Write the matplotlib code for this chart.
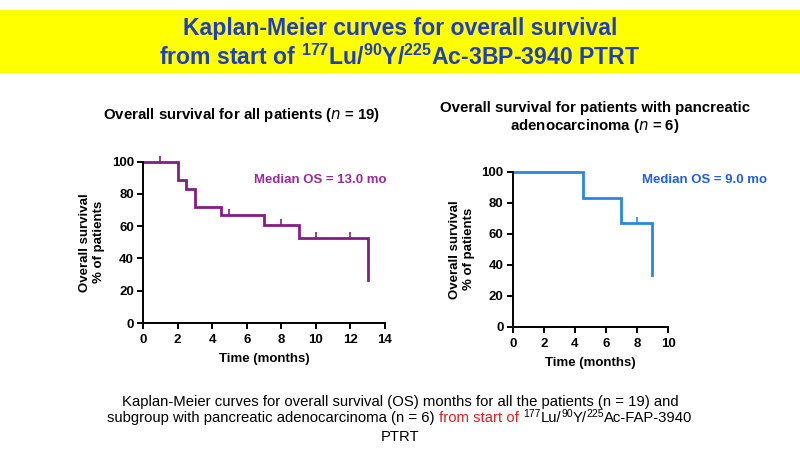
import matplotlib
matplotlib.use("Agg")
import matplotlib.pyplot as plt
from matplotlib.patches import Rectangle

plt.rcParams['font.family'] = ['Liberation Sans', 'DejaVu Sans']
plt.rcParams['mathtext.fontset'] = 'custom'
plt.rcParams['mathtext.rm'] = 'Liberation Sans'
plt.rcParams['mathtext.bf'] = 'Liberation Sans:bold'

# dados
all_times = [0, 2, 2.5, 3, 4.5, 7, 9, 13]
all_surv = [100, 88.9, 83.3, 72.2, 66.7, 60.6, 53.0, 26.5]
all_cens_t = [1, 5, 8, 10, 12]
all_cens_s = [100, 66.7, 60.6, 53.0, 53.0]

panc_times = [0, 4.5, 7, 9]
panc_surv = [100, 83.3, 66.7, 33.3]
panc_cens_t = [8]
panc_cens_s = [66.7]

left_xticks = [0, 2, 4, 6, 8, 10, 12, 14]
right_xticks = [0, 2, 4, 6, 8, 10]
yticks = [0, 20, 40, 60, 80, 100]

purple = '#861c86'
purple_txt = '#9a2a9a'
blue = '#2a86e6'
blue_txt = '#1f5fe0'

fig = plt.figure(figsize=(8, 4.5), dpi=100)
W, H = 800, 450

def fx(px):
    return px / W

def fy(py):
    return 1 - py / H

# faixa amarela do titulo
fig.patches.append(Rectangle((0, fy(73)), 1, fy(10) - fy(73), transform=fig.transFigure,
                             facecolor='#ffff00', edgecolor='none', zorder=0))
fig.text(0.5, fy(28), 'Kaplan-Meier curves for overall survival', ha='center', va='center',
         fontsize=16.6, fontweight='bold', color='#1f3fbf')
fig.text(0.5, fy(57), r'from start of $^{\mathbf{177}}$Lu/$^{\mathbf{90}}$Y/$^{\mathbf{225}}$Ac-3BP-3940 PTRT',
         ha='center', va='center', fontsize=16.6, fontweight='bold', color='#1f3fbf')


def km_axes(rect, times, surv, ct, cs, color, xt):
    ax = fig.add_axes(rect)
    ax.step(times, surv, where='post', color=color, lw=2.0, solid_joinstyle='miter')
    ax.plot(ct, cs, ls='none', marker=2, ms=4, mew=1.2, color=color)
    ax.set_xlim(0, xt[-1])
    ax.set_ylim(0, 100)
    ax.set_xticks(xt)
    ax.set_yticks(yticks)
    for s in ['top', 'right']:
        ax.spines[s].set_visible(False)
    for s in ['left', 'bottom']:
        ax.spines[s].set_linewidth(1.4)
    ax.tick_params(width=1.4, length=4.5, labelsize=9.5, pad=2)
    ax.tick_params(axis='x', pad=3.5)
    for lab in ax.get_xticklabels() + ax.get_yticklabels():
        lab.set_fontweight('bold')
    ax.set_xlabel('Time (months)', fontsize=9.5, fontweight='bold', labelpad=5)
    ax.set_ylabel('Overall survival\n% of patients', fontsize=9.5, fontweight='bold', labelpad=5)
    for l in ax.lines:
        l.set_clip_on(False)
    return ax

ax1 = km_axes([fx(143), fy(323), fx(385) - fx(143), fy(161.7) - fy(323)],
              all_times, all_surv, all_cens_t, all_cens_s, purple, left_xticks)
ax1.text(6.4, 88.5, 'Median OS = 13.0 mo', color=purple_txt, fontsize=9.5, fontweight='bold', va='center')

ax2 = km_axes([fx(512.7), fy(326.7), fx(668) - fx(512.7), fy(171.7) - fy(326.7)],
              panc_times, panc_surv, panc_cens_t, panc_cens_s, blue, right_xticks)
ax2.text(8.3, 94.5, 'Median OS = 9.0 mo', color=blue_txt, fontsize=9.5, fontweight='bold', va='center')

fig.text(fx(242), fy(115), 'Overall survival for all patients ($\\mathbf{\\it{n}}$ = 19)', ha='center',
         va='center', fontsize=10.8, fontweight='bold')
fig.text(fx(595), fy(108), 'Overall survival for patients with pancreatic', ha='center',
         va='center', fontsize=10.8, fontweight='bold')
fig.text(fx(595), fy(126), 'adenocarcinoma ($\\mathbf{\\it{n}}$ = 6)', ha='center',
         va='center', fontsize=10.8, fontweight='bold')

# legenda de baixo, com partes em vermelho e sobrescritos feitos a mao
fig.text(0.5, fy(402), 'Kaplan-Meier curves for overall survival (OS) months for all the patients (n = 19) and',
         ha='center', va='center', fontsize=10.7)
parts = [('subgroup with pancreatic adenocarcinoma (n = 6) ', 'black', False),
         ('from start of ', '#e02020', False),
         ('177', 'black', True), ('Lu/', 'black', False),
         ('90', 'black', True), ('Y/', 'black', False),
         ('225', 'black', True), ('Ac-FAP-3940', 'black', False)]
base = 422
fig.canvas.draw()
r = fig.canvas.get_renderer()
objs = []
for s, c, sup in parts:
    t = fig.text(0, fy(base), s, ha='left', va='baseline', fontsize=7.5 if sup else 10.7, color=c)
    objs.append((t, sup))
widths = [t.get_window_extent(r).width for t, _ in objs]
x = (W - sum(widths)) / 2
for (t, sup), w in zip(objs, widths):
    t.set_position((fx(x), fy(base - 5 if sup else base)))
    x += w
fig.text(0.5, fy(437), 'PTRT', ha='center', va='center', fontsize=10.7)

fig.savefig('out.png', dpi=100)
